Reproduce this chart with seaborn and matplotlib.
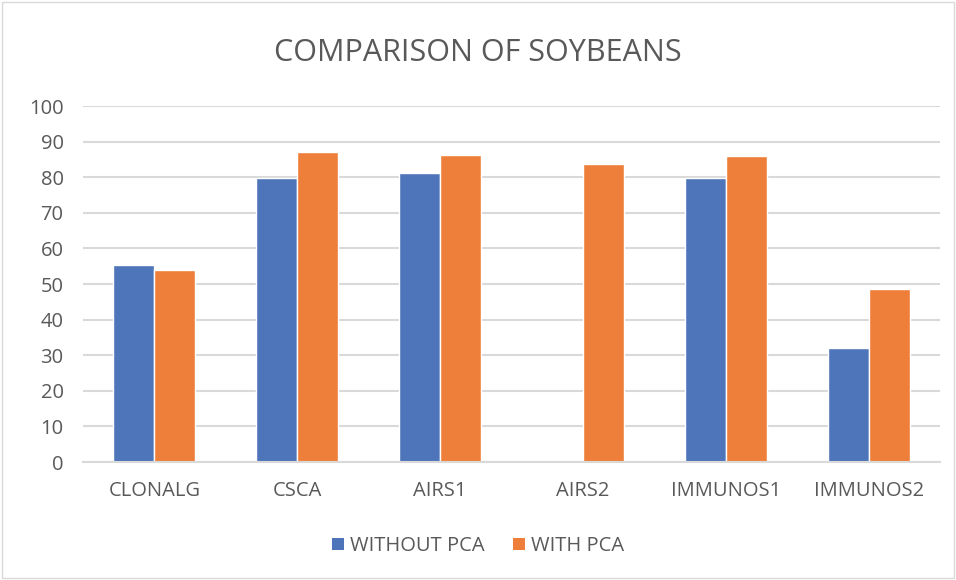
import matplotlib
matplotlib.use("Agg")
import matplotlib.pyplot as plt
import seaborn as sns
import pandas as pd
from matplotlib.patches import Patch

categories = ["CLONALG", "CSCA", "AIRS1", "AIRS2", "IMMUNOS1", "IMMUNOS2"]
without_pca = [55.3, 79.8, 81.3, 0.0, 79.8, 31.9]
with_pca = [53.8, 87.0, 86.2, 83.7, 85.9, 48.5]
series_names = ["WITHOUT PCA", "WITH PCA"]
colors = ["#4E75BA", "#EE7F3B"]

df = pd.DataFrame({
    "cat": categories * 2,
    "val": without_pca + with_pca,
    "series": [series_names[0]] * len(categories) + [series_names[1]] * len(categories),
})

sns.set_theme(style="white")
plt.rcParams["font.family"] = ["Open Sans", "DejaVu Sans"]
txt = "#595959"

fig = plt.figure(figsize=(9.56, 5.8), dpi=100)
ax = fig.add_axes([83 / 956, 1 - 462 / 580, (940 - 83) / 956, (462 - 106) / 580])

sns.barplot(data=df, x="cat", y="val", hue="series", palette=colors,
            width=0.575, gap=0, ax=ax, legend=False, saturation=1)

ax.set_ylim(0, 100)
ax.set_yticks(range(0, 101, 10))
ax.yaxis.grid(True, color="#D9D9D9", linewidth=1.5)
ax.set_axisbelow(True)
for s in ["top", "right", "left"]:
    ax.spines[s].set_visible(False)
ax.spines["bottom"].set_color("#D9D9D9")
ax.spines["bottom"].set_linewidth(1.5)
ax.set_xlabel("")
ax.set_ylabel("")
ax.tick_params(axis="y", length=0, labelsize=14.5, colors=txt, pad=14)
ax.tick_params(axis="x", length=0, labelsize=14.5, colors=txt, pad=14)
ax.set_xlim(-0.5, len(categories) - 0.5)

fig.text(0.5, 1 - 53 / 580, "COMPARISON OF SOYBEANS", ha="center", va="center",
         fontsize=22, color=txt)

handles = [Patch(facecolor=c, edgecolor="none") for c in colors]
fig.legend(handles, series_names, loc="center", bbox_to_anchor=(0.5, 1 - 546 / 580),
           ncol=2, frameon=False, fontsize=14.5, labelcolor=txt,
           handlelength=0.6, handleheight=0.6, handletextpad=0.3, columnspacing=1.4)

fig.add_artist(plt.Rectangle((2 / 956, 2 / 580), 952 / 956, 576 / 580,
                             transform=fig.transFigure, fill=False,
                             edgecolor="#D9D9D9", linewidth=1))

fig.savefig("out.png", dpi=100, facecolor="white")
